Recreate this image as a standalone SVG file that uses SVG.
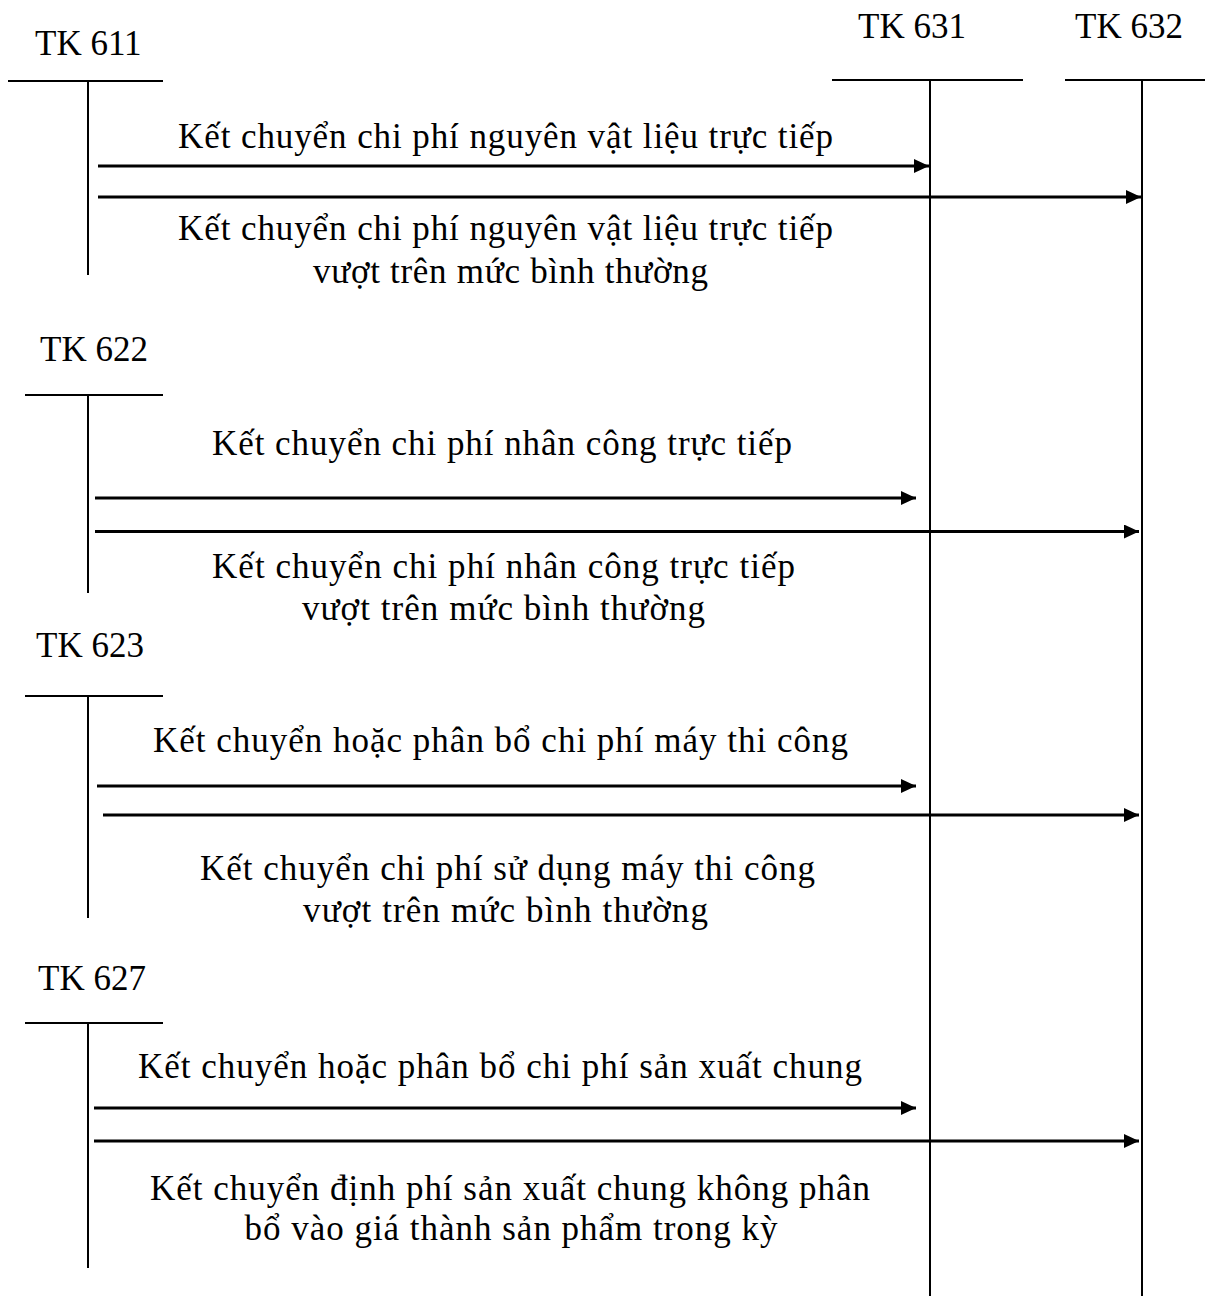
<svg xmlns="http://www.w3.org/2000/svg" width="1219" height="1296" viewBox="0 0 1219 1296">
<style>
text { font-family: "Liberation Serif", "Times New Roman", serif; font-size: 35px; fill: #000; }
.lbl { text-anchor: middle; }
.acc { stroke: #000; stroke-width: 2; fill: none; }
.arr { stroke: #000; stroke-width: 3; fill: none; marker-end: url(#ah); }
</style>
<defs>
<marker id="ah" markerUnits="userSpaceOnUse" markerWidth="16" markerHeight="16" refX="15" refY="7" orient="auto">
<path d="M0,0 L15,7 L0,14 z" fill="#000"/>
</marker>
</defs>
<rect width="1219" height="1296" fill="#fff"/>
<g id="tk611">
<text x="35" y="55">TK 611</text>
<line class="acc" x1="8" y1="81" x2="163" y2="81"/>
<line class="acc" x1="88" y1="81" x2="88" y2="275"/>
</g>
<g id="tk622">
<text x="40" y="361">TK 622</text>
<line class="acc" x1="25" y1="395" x2="163" y2="395"/>
<line class="acc" x1="88" y1="395" x2="88" y2="593"/>
</g>
<g id="tk623">
<text x="36" y="657">TK 623</text>
<line class="acc" x1="25" y1="696" x2="163" y2="696"/>
<line class="acc" x1="88" y1="696" x2="88" y2="918"/>
</g>
<g id="tk627">
<text x="38" y="990">TK 627</text>
<line class="acc" x1="25" y1="1023" x2="163" y2="1023"/>
<line class="acc" x1="88" y1="1023" x2="88" y2="1268"/>
</g>
<g id="tk631">
<text x="858" y="38">TK 631</text>
<line class="acc" x1="832" y1="80" x2="1023" y2="80"/>
<line class="acc" x1="930" y1="80" x2="930" y2="1296"/>
</g>
<g id="tk632">
<text x="1075" y="38">TK 632</text>
<line class="acc" x1="1065" y1="80" x2="1205" y2="80"/>
<line class="acc" x1="1142" y1="80" x2="1142" y2="1296"/>
</g>
<g id="connectors">
<line class="arr" x1="98" y1="166" x2="929" y2="166"/>
<line class="arr" x1="98" y1="197" x2="1141" y2="197"/>
<line class="arr" x1="95" y1="498" x2="916" y2="498"/>
<line class="arr" x1="95" y1="531.5" x2="1139" y2="531.5"/>
<line class="arr" x1="97" y1="786" x2="916" y2="786"/>
<line class="arr" x1="103" y1="815" x2="1139" y2="815"/>
<line class="arr" x1="94" y1="1108" x2="916" y2="1108"/>
<line class="arr" x1="94" y1="1141" x2="1139" y2="1141"/>
</g>
<g id="labels">
<text class="lbl" x="505.5" y="148" textLength="655" lengthAdjust="spacing">Kết chuyển chi phí nguyên vật liệu trực tiếp</text>
<text class="lbl" x="505.5" y="240" textLength="655" lengthAdjust="spacing">Kết chuyển chi phí nguyên vật liệu trực tiếp</text>
<text class="lbl" x="510.5" y="283" textLength="395" lengthAdjust="spacing">vượt trên mức bình thường</text>
<text class="lbl" x="502" y="455" textLength="580" lengthAdjust="spacing">Kết chuyển chi phí nhân công trực tiếp</text>
<text class="lbl" x="503.5" y="578" textLength="583" lengthAdjust="spacing">Kết chuyển chi phí nhân công trực tiếp</text>
<text class="lbl" x="503.5" y="620" textLength="403" lengthAdjust="spacing">vượt trên mức bình thường</text>
<text class="lbl" x="500.5" y="752" textLength="695" lengthAdjust="spacing">Kết chuyển hoặc phân bổ chi phí máy thi công</text>
<text class="lbl" x="507.5" y="880" textLength="615" lengthAdjust="spacing">Kết chuyển chi phí sử dụng máy thi công</text>
<text class="lbl" x="505.5" y="922" textLength="405" lengthAdjust="spacing">vượt trên mức bình thường</text>
<text class="lbl" x="500" y="1078" textLength="724" lengthAdjust="spacing">Kết chuyển hoặc phân bổ chi phí sản xuất chung</text>
<text class="lbl" x="510" y="1200" textLength="720" lengthAdjust="spacing">Kết chuyển định phí sản xuất chung không phân</text>
<text class="lbl" x="511" y="1240" textLength="533" lengthAdjust="spacing">bổ vào giá thành sản phẩm trong kỳ</text>
</g>
</svg>
